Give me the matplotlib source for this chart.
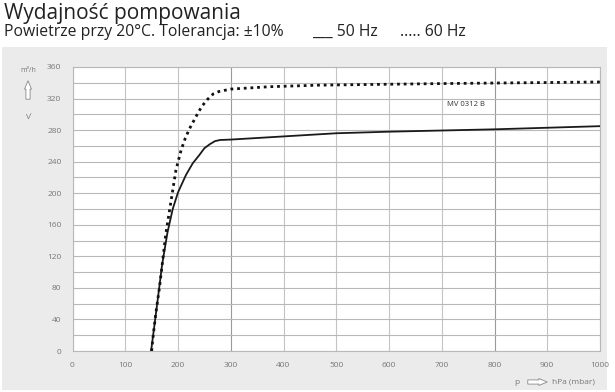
import numpy as np
import matplotlib
matplotlib.use("Agg")
import matplotlib.pyplot as plt
from matplotlib.patches import Rectangle

plt.rcParams['font.family'] = ['Open Sans', 'DejaVu Sans']

# pressure hPa (mbar) vs pumping speed m3/h
p_50 = [149, 160, 170, 180, 190, 200, 215, 228, 240, 250, 260, 270, 280, 300, 400, 500, 600, 800, 1000]
v_50 = [0, 57, 110, 150, 180, 201, 223, 238, 248, 257, 262, 266, 267.5, 268, 272, 276, 278, 281, 285]

p_60 = [150, 152, 158, 165, 177, 187, 196, 206, 214, 222, 234, 245, 256, 267, 278, 300, 373, 468, 700, 1000]
v_60 = [0, 14, 48, 81, 149, 191, 229, 255, 270, 282, 297, 310, 319, 326, 329, 332, 335, 337, 339, 341]

x_ticks = [0, 100, 200, 300, 400, 500, 600, 700, 800, 900, 1000]
y_ticks = [0, 40, 80, 120, 160, 200, 240, 280, 320, 360]

title = "Wydajność pompowania"
subtitle = "Powietrze przy 20°C. Tolerancja: ±10%"
key_50 = "___ 50 Hz"
key_60 = "..... 60 Hz"
model = "MV 0312 B"

fig = plt.figure(figsize=(6.15, 3.92), dpi=100)
fig.patches.append(Rectangle((2 / 615, 2 / 392), 605 / 615, 343 / 392,
                             transform=fig.transFigure, facecolor='#ebebeb',
                             edgecolor='none', zorder=-10))

ax = fig.add_axes([72.5 / 615, 41 / 392, 527.5 / 615, 284 / 392])
ax.set_facecolor('white')
ax.set_xlim(0, 1000)
ax.set_ylim(0, 360)

for x in x_ticks:
    c = '#9a9a9a' if x in (300, 800) else '#c4c4c4'
    ax.axvline(x, color=c, lw=0.8, zorder=1)
for y in range(0, 361, 20):
    ax.axhline(y, color='#b8b8b8', lw=0.8, zorder=1)

ax.plot(p_50, v_50, color='#1a1a1a', lw=1.3, zorder=3)
ax.plot(p_60, v_60, color='#111111', lw=2.0, linestyle=(0, (1, 1.4)),
        dash_capstyle='butt', zorder=3)

ax.text(746, 313, model, fontsize=5.5, color='#333333', ha='center', va='center')

ax.set_xticks(x_ticks)
ax.set_yticks(y_ticks)
ax.tick_params(length=0, labelsize=6, colors='#777777', pad=8)
for s in ax.spines.values():
    s.set_color('#b8b8b8')
    s.set_linewidth(0.8)

fig.text(4 / 615, 1 - 14 / 392, title, fontsize=15, color='#222222', va='center')
fig.text(4 / 615, 1 - 32 / 392, subtitle, fontsize=11.3, color='#222222', va='center')
fig.text(312 / 615, 1 - 32 / 392, key_50, fontsize=11.3, color='#222222', va='center')
fig.text(400 / 615, 1 - 32 / 392, key_60, fontsize=11.3, color='#222222', va='center')

# y unit label with arrow
fig.text(28 / 615, 1 - 70 / 392, "m³/h", fontsize=5, color='#777777', ha='center', va='center')
ax.annotate("", xy=(28, 392 - 78), xytext=(28, 392 - 102), xycoords='figure pixels',
            textcoords='figure pixels',
            arrowprops=dict(arrowstyle='simple,head_width=0.5,head_length=0.6,tail_width=0.3',
                            facecolor='white', edgecolor='#888888', lw=0.6))
fig.text(28 / 615, 1 - 117 / 392, "V̇", fontsize=6, color='#777777', ha='center', va='center')

# x unit label with arrow
fig.text(517 / 615, 1 - 382 / 392, "p", fontsize=6, color='#777777', ha='center', va='center')
ax.annotate("", xy=(550, 392 - 382), xytext=(525, 392 - 382), xycoords='figure pixels',
            textcoords='figure pixels',
            arrowprops=dict(arrowstyle='simple,head_width=0.5,head_length=0.6,tail_width=0.3',
                            facecolor='white', edgecolor='#888888', lw=0.6))
fig.text(552 / 615, 1 - 382 / 392, "hPa (mbar)", fontsize=6, color='#777777', ha='left', va='center')

fig.savefig("out.png", dpi=100)
